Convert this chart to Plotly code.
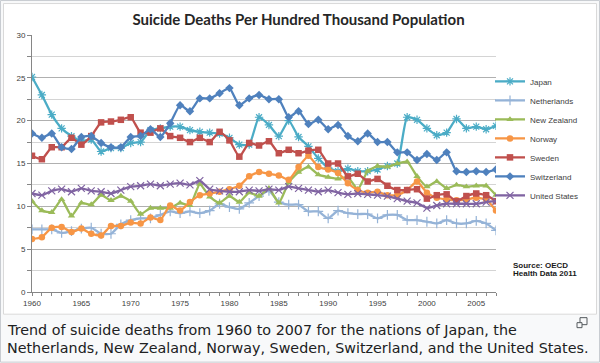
import plotly.graph_objects as go

years = list(range(1960, 2008))

japan = [25.1, 23.0, 20.7, 19.1, 18.2, 17.6, 17.8, 16.4, 16.8, 16.8,
         17.4, 17.5, 18.9, 19.1, 19.3, 19.3, 18.9, 18.7, 18.6, 18.5,
         18.0, 17.2, 17.2, 20.4, 19.5, 18.2, 20.0, 18.1, 17.0, 15.6,
         14.5, 14.1, 14.4, 14.1, 14.1, 14.3, 14.7, 15.0, 20.4, 20.1,
         19.1, 18.3, 18.6, 20.2, 19.1, 19.3, 19.0, 19.4]
netherlands = [7.3, 7.3, 7.3, 6.9, 7.1, 7.4, 7.5, 6.8, 6.8, 7.9,
               8.4, 8.6, 8.6, 9.0, 9.4, 9.2, 9.4, 9.2, 9.5, 10.3,
               9.9, 9.7, 10.4, 11.2, 11.8, 10.5, 10.2, 10.2, 9.4, 9.4,
               8.6, 9.5, 9.2, 9.1, 9.1, 8.6, 9.0, 9.0, 8.4, 8.4,
               8.2, 8.0, 8.4, 8.0, 8.0, 8.3, 8.0, 7.2]
new_zealand = [10.6, 9.5, 9.3, 10.8, 8.9, 10.4, 10.2, 11.3, 10.7, 11.2,
               10.6, 9.1, 9.8, 9.8, 9.8, 10.4, 10.1, 12.6, 11.1, 10.4,
               11.2, 10.5, 11.6, 11.2, 12.1, 10.4, 12.8, 14.0, 14.6, 13.7,
               13.4, 13.2, 13.4, 12.0, 14.1, 14.7, 14.6, 15.0, 15.2, 13.5,
               12.3, 12.9, 12.1, 12.5, 12.3, 12.4, 12.4, 11.3]
norway = [6.2, 6.4, 7.5, 7.6, 7.0, 7.4, 6.8, 6.6, 7.7, 7.7,
          8.1, 8.0, 8.7, 8.4, 10.1, 9.5, 10.5, 11.3, 11.5, 11.7,
          12.0, 12.4, 13.5, 14.0, 13.8, 13.6, 13.1, 14.6, 15.9, 14.6,
          14.3, 13.9, 12.7, 11.9, 11.6, 11.7, 11.3, 11.3, 11.9, 12.9,
          11.6, 11.0, 10.8, 10.7, 10.8, 11.0, 10.8, 9.5]
sweden = [15.9, 15.5, 16.9, 16.9, 18.0, 17.2, 18.2, 19.8, 19.9, 20.1,
          20.4, 18.6, 18.6, 19.1, 18.2, 18.0, 17.5, 18.0, 17.5, 18.7,
          17.7, 15.8, 17.4, 17.1, 17.6, 16.2, 16.6, 16.2, 16.5, 16.6,
          15.0, 15.0, 13.5, 13.8, 12.9, 13.2, 12.4, 11.9, 11.9, 12.0,
          10.9, 11.3, 11.4, 10.6, 11.2, 11.5, 11.3, 10.6]
switzerland = [18.5, 18.0, 18.5, 16.9, 16.7, 18.1, 18.2, 17.4, 16.9, 16.9,
               18.1, 18.2, 19.0, 18.1, 19.7, 21.8, 21.1, 22.6, 22.6, 23.2,
               23.8, 21.8, 22.6, 23.0, 22.5, 22.5, 20.4, 21.1, 19.6, 20.1,
               19.0, 19.5, 18.2, 17.6, 18.5, 17.5, 17.5, 16.3, 16.3, 15.4,
               16.1, 15.4, 16.3, 14.1, 14.0, 14.1, 14.0, 14.3]
united_states = [11.5, 11.3, 11.8, 12.0, 11.7, 12.1, 11.8, 11.7, 11.5, 11.9,
                 12.3, 12.4, 12.6, 12.4, 12.6, 12.7, 12.5, 13.0, 12.0, 11.8,
                 11.7, 11.7, 11.9, 11.8, 12.0, 11.9, 12.3, 12.1, 11.9, 11.7,
                 11.9, 11.6, 11.4, 11.5, 11.4, 11.3, 11.2, 10.9, 10.6, 10.4,
                 9.8, 10.1, 10.3, 10.3, 10.3, 10.3, 10.5, 10.6]

series = [
    ("Japan", japan, "#4BACC6", "asterisk-open"),
    ("Netherlands", netherlands, "#95B3D7", "cross-thin-open"),
    ("New Zealand", new_zealand, "#9BBB59", "triangle-up"),
    ("Norway", norway, "#F79646", "circle"),
    ("Sweden", sweden, "#C0504D", "square"),
    ("Switzerland", switzerland, "#4F81BD", "diamond"),
    ("United States", united_states, "#8064A2", "x-thin-open"),
]

y_ticks = [0, 5, 10, 15, 20, 25, 30]
x_ticks = [1960, 1965, 1970, 1975, 1980, 1985, 1990, 1995, 2000, 2005]

title_text = "Suicide Deaths Per Hundred Thousand Population"
source_lines = ["Source: OECD", "Health Data 2011"]
caption_lines = [
    "Trend of suicide deaths from 1960 to 2007 for the nations of Japan, the",
    "Netherlands, New Zealand, Norway, Sweden, Switzerland, and the United States.",
]

W, H = 600, 363
L, R, T, B = 32, 496, 35, 292.3


def px(xp):
    return (xp - L) / (R - L)


def py(yp):
    return (B - yp) / (B - T)


fig = go.Figure()
for name, vals, color, sym in series:
    thin = sym.endswith("open")
    fig.add_trace(go.Scatter(
        x=years, y=vals, name=name, mode="lines+markers",
        line=dict(color=color, width=2.3, shape="spline", smoothing=0.5),
        marker=dict(symbol=sym, size=7 if thin else 6.5, color=color,
                    line=dict(color=color, width=1.2 if thin else 0)),
    ))

fig.update_layout(
    width=W, height=H,
    margin=dict(l=L, r=W - R, t=T, b=H - B, autoexpand=False),
    paper_bgcolor="#f8f9fa",
    plot_bgcolor="white",
    showlegend=True,
    title=dict(text=title_text, x=298.5 / W, y=1 - 20 / H,
               xanchor="center", yanchor="middle",
               font=dict(family="Lato", size=15, color="#262626",
                         weight="bold")),
    legend=dict(x=px(490), y=py(138.5), xanchor="left", yanchor="middle",
                font=dict(family="Liberation Sans", size=8, color="#404040"),
                itemwidth=30, bgcolor="rgba(0,0,0,0)", traceorder="normal"),
    font=dict(family="Liberation Sans", size=8, color="#404040"),
)

fig.update_xaxes(
    range=[1960, 2007], tickvals=x_ticks, showgrid=False,
    showline=True, linecolor="#868686", linewidth=1,
    ticks="outside", ticklen=3, tickcolor="#868686",
    minor=dict(dtick=1, tick0=1960, ticks="outside", ticklen=3,
               tickcolor="#868686", showgrid=False),
    tickfont=dict(family="Liberation Sans", size=8, color="#404040"),
    zeroline=False, fixedrange=True,
)
fig.update_yaxes(
    range=[0, 30], tickvals=y_ticks, showgrid=True, gridcolor="#b0b0b0",
    gridwidth=1, showline=True, linecolor="#868686", linewidth=1,
    ticks="outside", ticklen=4, tickcolor="#868686",
    minor=dict(dtick=2.5, tick0=0, showgrid=True, gridcolor="#d4d4d4",
               ticks="outside", ticklen=4, tickcolor="#868686"),
    tickfont=dict(family="Liberation Sans", size=8, color="#404040"),
    zeroline=False, fixedrange=True,
)

shapes = [
    # white chart image area
    dict(type="rect", xref="paper", yref="paper", layer="below",
         x0=px(3.5), x1=px(596.5), y0=py(3.5), y1=py(314.5),
         fillcolor="white", line=dict(color="#d9d9d9", width=1)),
    # outer thumbnail border
    dict(type="rect", xref="paper", yref="paper", layer="below",
         x0=px(0.5), x1=px(599.5), y0=py(0.5), y1=py(362.5),
         fillcolor="rgba(0,0,0,0)", line=dict(color="#c8ccd1", width=1)),
    # magnify icon
    dict(type="rect", xref="paper", yref="paper",
         x0=px(580), x1=px(587), y0=py(318), y1=py(325),
         line=dict(color="#54595d", width=1), fillcolor="rgba(0,0,0,0)"),
    dict(type="rect", xref="paper", yref="paper",
         x0=px(577), x1=px(582), y0=py(323), y1=py(328),
         line=dict(color="#54595d", width=1), fillcolor="#f8f9fa"),
]
fig.update_layout(shapes=shapes)

ann = []
for i, s in enumerate(source_lines):
    ann.append(dict(text=s, xref="paper", yref="paper", x=px(511),
                    y=py(266 + 8 * i), xanchor="left", yanchor="middle",
                    showarrow=False,
                    font=dict(family="Liberation Sans", size=8,
                              color="#1a1a1a", weight="bold")))
for i, s in enumerate(caption_lines):
    ann.append(dict(text=s, xref="paper", yref="paper", x=px(5),
                    y=py(330.5 + 17.5 * i), xanchor="left", yanchor="middle",
                    showarrow=False,
                    font=dict(family="DejaVu Sans", size=14.3,
                              color="#202122")))
fig.update_layout(annotations=ann)

fig.write_html(
    "out.html",
    config=dict(displayModeBar=False, staticPlot=True),
    post_script="document.body.style.margin='0';"
                "document.body.style.overflow='hidden';",
)
